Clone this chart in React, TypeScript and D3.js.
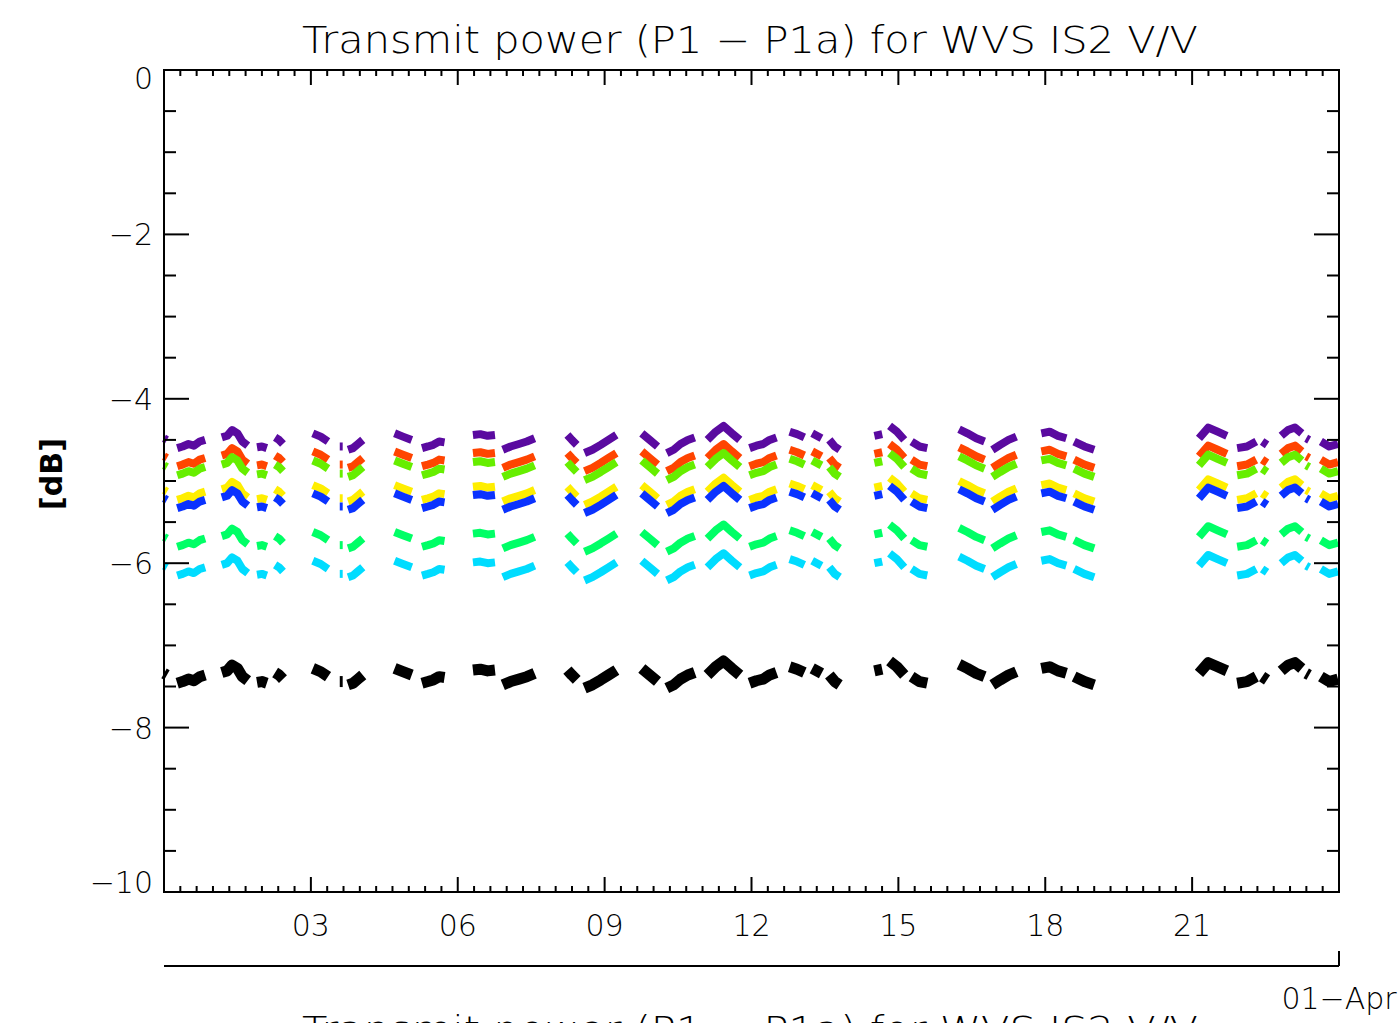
import React from "react";
import * as d3 from "d3";

// ---- data ----
const TITLE = "Transmit power (P1 \u2212 P1a) for WVS IS2 V/V";
const Y_LABEL = "[dB]";
const DATE_LABEL = "01\u2212Apr";
const X_DOMAIN: [number, number] = [0, 24];
const Y_DOMAIN: [number, number] = [-10, 0];
const X_MAJOR = [3, 6, 9, 12, 15, 18, 21];
const X_LABELS = ["03", "06", "09", "12", "15", "18", "21"];
const Y_MAJOR = [0, -2, -4, -6, -8, -10];
const Y_LABELS = ["0", "\u22122", "\u22124", "\u22126", "\u22128", "\u221210"];

const SERIES_COLORS = ["#5a0aa0", "#ff4400", "#66ee00", "#ffee00", "#0a32ff", "#00ff66", "#00dcff", "#000000"];
// level of each series relative to the reference (first) series, dB
const SERIES_OFFSETS = [0, -0.22, -0.33, -0.63, -0.73, -1.2, -1.55, -2.86];
const SERIES_WIDTHS = [8, 8, 8, 8, 8, 8, 8, 11];

// reference series segments: [day, dB]
const SEGMENTS: [number, number][][] = [
  [[0.0, -4.48], [0.06, -4.5]],
  [[0.27, -4.6], [0.38, -4.58], [0.5, -4.55], [0.61, -4.57], [0.73, -4.52], [0.84, -4.5]],
  [[1.18, -4.47], [1.29, -4.45], [1.39, -4.38], [1.5, -4.42], [1.6, -4.52], [1.71, -4.57]],
  [[1.9, -4.59], [2.0, -4.58], [2.1, -4.6]],
  [[2.27, -4.47], [2.35, -4.5], [2.43, -4.55]],
  [[3.04, -4.42], [3.2, -4.46], [3.35, -4.52]],
  [[3.59, -4.58], [3.65, -4.58]],
  [[3.76, -4.62], [3.86, -4.6], [3.96, -4.55], [4.06, -4.5]],
  [[4.71, -4.42], [4.88, -4.46], [5.06, -4.5]],
  [[5.27, -4.6], [5.39, -4.58], [5.5, -4.56], [5.62, -4.52], [5.73, -4.53]],
  [[6.31, -4.44], [6.46, -4.43], [6.61, -4.45], [6.76, -4.44]],
  [[6.92, -4.62], [7.08, -4.58], [7.25, -4.55], [7.41, -4.52], [7.57, -4.48]],
  [[8.24, -4.44], [8.33, -4.5], [8.43, -4.56]],
  [[8.59, -4.66], [8.75, -4.62], [8.92, -4.56], [9.08, -4.5], [9.24, -4.44]],
  [[9.76, -4.42], [9.92, -4.5], [10.08, -4.58]],
  [[10.27, -4.66], [10.41, -4.62], [10.55, -4.55], [10.7, -4.5], [10.84, -4.47]],
  [[11.1, -4.5], [11.27, -4.4], [11.43, -4.33], [11.6, -4.42], [11.76, -4.5]],
  [[11.96, -4.6], [12.1, -4.57], [12.24, -4.55], [12.37, -4.5], [12.51, -4.47]],
  [[12.78, -4.4], [12.93, -4.43], [13.08, -4.47]],
  [[13.24, -4.42], [13.43, -4.48]],
  [[13.59, -4.5], [13.7, -4.58], [13.8, -4.62]],
  [[14.51, -4.45], [14.67, -4.43]],
  [[14.82, -4.33], [14.97, -4.4], [15.12, -4.5]],
  [[15.27, -4.52], [15.43, -4.58], [15.59, -4.6]],
  [[16.24, -4.37], [16.41, -4.42], [16.59, -4.48], [16.76, -4.52]],
  [[16.92, -4.62], [17.08, -4.56], [17.25, -4.5], [17.41, -4.46]],
  [[17.92, -4.42], [18.09, -4.4], [18.26, -4.45], [18.43, -4.48]],
  [[18.59, -4.52], [18.8, -4.58], [19.0, -4.62]],
  [[21.14, -4.48], [21.33, -4.35], [21.52, -4.4], [21.71, -4.45]],
  [[21.92, -4.6], [22.12, -4.58], [22.31, -4.52]],
  [[22.43, -4.52], [22.53, -4.56]],
  [[22.82, -4.45], [22.96, -4.38], [23.1, -4.35], [23.24, -4.42]],
  [[23.33, -4.48], [23.39, -4.5]],
  [[23.63, -4.52], [23.8, -4.58], [23.98, -4.55]],
];

const W = 1398;
const H = 1023;
const L = 164, R = 1339, T = 70, B = 892;

export default function App() {
  const x = d3.scaleLinear().domain(X_DOMAIN).range([L, R]);
  const y = d3.scaleLinear().domain(Y_DOMAIN).range([B, T]);
  const xMinor = d3.range(0, 24.001, 1 / 3);
  const yMinor = d3.range(-10, 0.001, 0.5);
  const font = "'DejaVu Sans', sans-serif";
  const fw = 200;

  return (
    <svg width={W} height={H} style={{ position: "absolute", left: 0, top: 0, background: "#fff" }}>
      <rect x={0} y={0} width={W} height={H} fill="#fff" />
      {/* data */}
      <g>
        {SERIES_COLORS.map((c, si) => {
          const line = d3
            .line<[number, number]>()
            .x((d) => x(d[0]))
            .y((d) => y(d[1] + SERIES_OFFSETS[si]));
          return (
            <g key={si}>
              {SEGMENTS.map((seg, k) => (
                <path
                  key={k}
                  d={line(seg) || ""}
                  fill="none"
                  stroke={c}
                  strokeWidth={SERIES_WIDTHS[si]}
                  strokeLinejoin="round"
                />
              ))}
            </g>
          );
        })}
      </g>
      {/* frame */}
      <rect x={L} y={T} width={R - L} height={B - T} fill="none" stroke="#000" strokeWidth={2} />
      {/* x ticks */}
      {xMinor.map((d, i) => {
        const major = Math.abs(d / 3 - Math.round(d / 3)) < 1e-6;
        const len = major ? 15 : 6;
        return (
          <g key={"xt" + i} stroke="#000" strokeWidth={2}>
            <line x1={x(d)} x2={x(d)} y1={B} y2={B - len} />
            <line x1={x(d)} x2={x(d)} y1={T} y2={T + len} />
          </g>
        );
      })}
      {/* y ticks */}
      {yMinor.map((d, i) => {
        const major = Math.abs(d / 2 - Math.round(d / 2)) < 1e-6;
        const len = major ? 25 : 12;
        return (
          <g key={"yt" + i} stroke="#000" strokeWidth={2}>
            <line x1={L} x2={L + len} y1={y(d)} y2={y(d)} />
            <line x1={R} x2={R - len} y1={y(d)} y2={y(d)} />
          </g>
        );
      })}
      {/* x labels */}
      {X_MAJOR.map((d, i) => (
        <text key={"xl" + i} x={x(d)} y={936} textAnchor="middle" fontFamily={font} fontWeight={fw} fontSize={30} fill="#000">
          {X_LABELS[i]}
        </text>
      ))}
      {/* y labels */}
      {Y_MAJOR.map((d, i) => {
        const shift = d === 0 ? 8 : d === -10 ? -10 : 0;
        return (
          <text key={"yl" + i} x={153} y={y(d) + shift + 11} textAnchor="end" fontFamily={font} fontWeight={fw} fontSize={30} fill="#000">
            {Y_LABELS[i]}
          </text>
        );
      })}
      {/* y axis title */}
      <text
        transform={`translate(62,${474}) rotate(-90)`}
        textAnchor="middle"
        fontFamily={font}
        fontSize={30}
        fontWeight="bold"
        fill="#000"
      >
        {Y_LABEL}
      </text>
      {/* title */}
      <text x={750} y={53} textAnchor="middle" fontFamily={font} fontWeight={fw} fontSize={37} fill="#000" textLength={896} lengthAdjust="spacingAndGlyphs">
        {TITLE}
      </text>
      {/* secondary date axis */}
      <line x1={L} x2={R} y1={966} y2={966} stroke="#000" strokeWidth={2} />
      <line x1={R} x2={R} y1={966} y2={951} stroke="#000" strokeWidth={2} />
      <text x={R} y={1009} textAnchor="middle" fontFamily={font} fontWeight={fw} fontSize={30} fill="#000">
        {DATE_LABEL}
      </text>
      {/* repeated title cut at the bottom edge, as in the reference */}
      <text x={750} y={1043} textAnchor="middle" fontFamily={font} fontWeight={fw} fontSize={37} fill="#000" textLength={896} lengthAdjust="spacingAndGlyphs">
        {TITLE}
      </text>
    </svg>
  );
}
